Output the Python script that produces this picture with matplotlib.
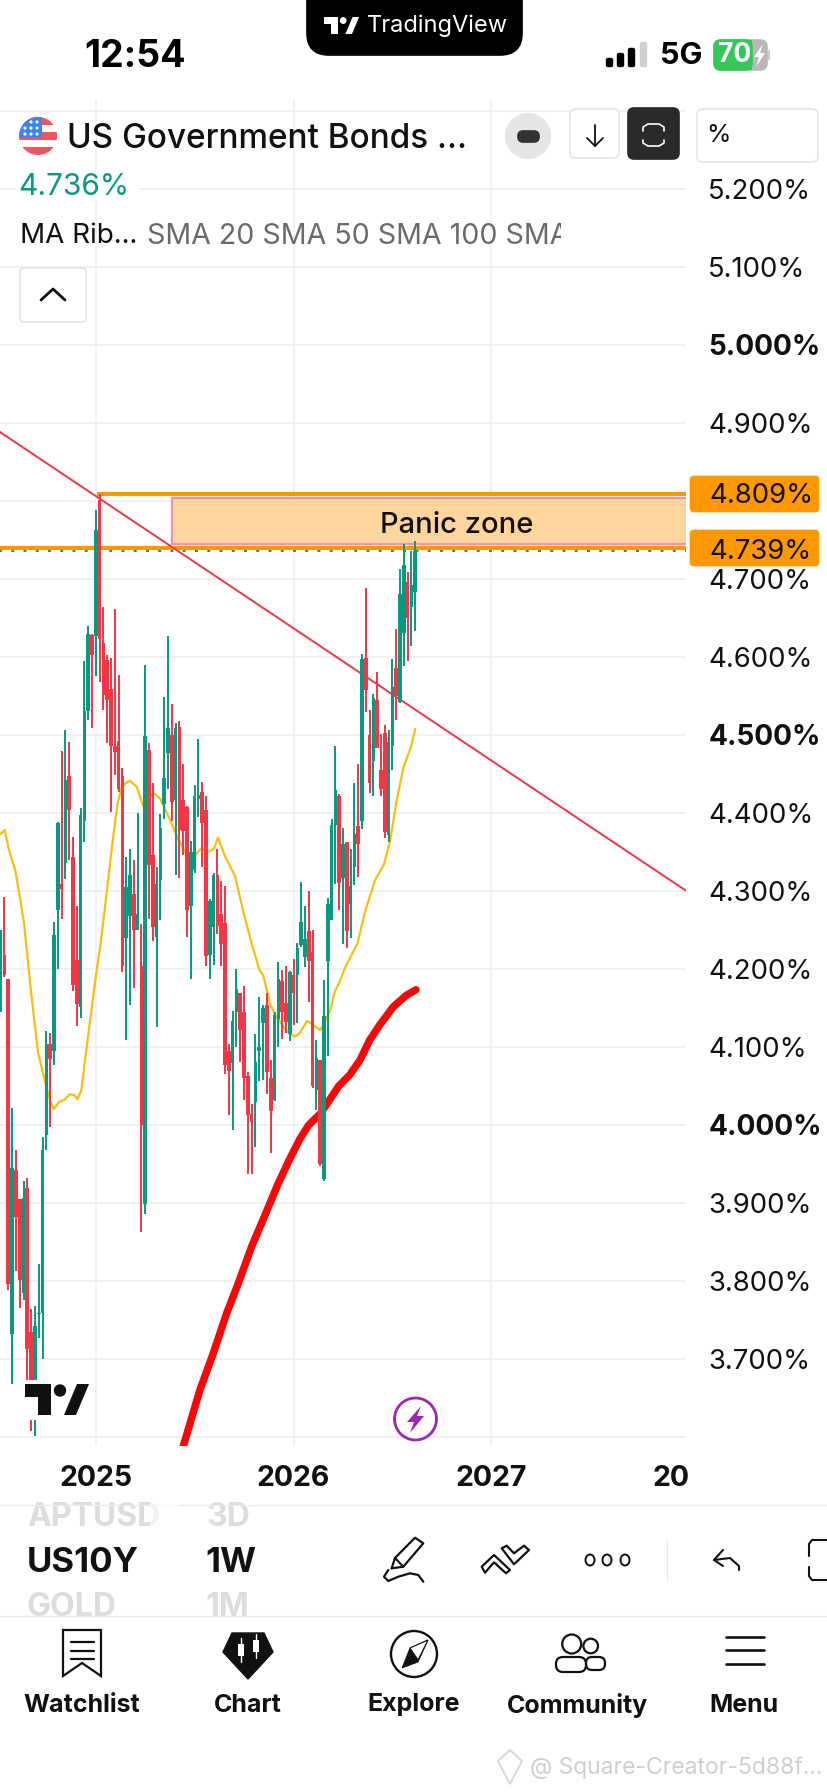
#!/usr/bin/env python3
import matplotlib
matplotlib.use("Agg")
import matplotlib.pyplot as plt
from matplotlib.patches import Rectangle, Circle, FancyBboxPatch, Polygon, Ellipse

plt.rcParams['font.family'] = ['Inter', 'DejaVu Sans']

# weekly candles, bar 25 is the first week of 2025
open_ = [4.217,4.217,4.187,3.732,3.942,3.905,3.784,3.919,3.734,3.672,3.757,3.758,3.987,4.104,4.094,4.275,4.308,4.335,4.447,4.343,
         4.211,4.151,4.389,4.530,4.628,4.627,4.801,4.617,4.596,4.558,4.485,4.492,4.447,4.240,4.268,4.296,4.250,4.203,3.898,4.480,
         4.346,4.241,4.314,4.411,4.477,4.500,4.416,4.510,4.416,4.407,4.281,4.327,4.418,4.427,4.403,4.217,4.254,4.320,4.270,4.258,
         4.095,4.079,4.144,4.169,4.144,4.063,4.014,4.029,4.094,4.130,4.154,4.060,4.032,4.136,4.184,4.156,4.116,4.192,4.192,4.230,
         4.215,4.248,4.221,4.045,4.083,3.931,4.210,4.263,4.384,4.421,4.316,4.362,4.283,4.330,4.383,4.390,4.598,4.499,4.466,4.544,
         4.455,4.502,4.372,4.485,4.585,4.542,4.630,4.696,4.664,4.683]
high = [4.249,4.292,4.187,4.021,3.967,3.905,3.928,3.932,3.764,3.767,3.821,3.984,4.120,4.117,4.260,4.388,4.479,4.506,4.491,4.369,
        4.280,4.406,4.594,4.639,4.629,4.788,4.809,4.664,4.602,4.598,4.661,4.576,4.457,4.343,4.353,4.339,4.400,4.257,4.589,4.489,
        4.438,4.331,4.398,4.548,4.627,4.539,4.515,4.518,4.462,4.408,4.364,4.436,4.495,4.440,4.421,4.289,4.323,4.353,4.312,4.306,
        4.103,4.146,4.199,4.169,4.178,4.068,4.027,4.116,4.164,4.154,4.169,4.083,4.144,4.209,4.198,4.203,4.197,4.212,4.233,4.311,
        4.281,4.299,4.249,4.108,4.083,4.186,4.291,4.392,4.485,4.424,4.380,4.363,4.354,4.438,4.462,4.604,4.688,4.532,4.552,4.580,
        4.501,4.512,4.506,4.597,4.636,4.713,4.744,4.708,4.735,4.748]
low = [4.145,4.190,3.788,3.668,3.812,3.765,3.775,3.661,3.607,3.601,3.727,3.699,3.968,3.997,4.077,4.199,4.264,4.315,4.339,4.171,
       4.127,4.137,4.363,4.519,4.508,4.575,4.567,4.532,4.489,4.401,4.448,4.427,4.196,4.109,4.153,4.175,4.249,3.862,3.885,4.264,
       4.236,4.125,4.262,4.392,4.431,4.389,4.320,4.316,4.346,4.241,4.187,4.323,4.395,4.331,4.203,4.187,4.205,4.244,4.204,4.065,
       4.012,3.993,4.100,4.080,4.032,3.937,3.937,3.971,4.056,4.057,4.040,3.964,4.030,4.100,4.110,4.118,4.107,4.128,4.131,4.228,
       4.202,4.157,4.047,4.019,3.947,3.928,4.088,4.263,4.309,4.275,4.232,4.227,4.240,4.307,4.317,4.379,4.529,4.425,4.422,4.483,
       4.421,4.367,4.363,4.455,4.519,4.541,4.588,4.595,4.614,4.633]
close = [4.249,4.192,3.796,3.944,3.882,3.801,3.906,3.712,3.666,3.742,3.758,3.968,4.104,4.084,4.243,4.387,4.302,4.442,4.403,4.179,
         4.155,4.397,4.530,4.629,4.602,4.763,4.623,4.551,4.545,4.485,4.478,4.431,4.203,4.305,4.320,4.250,4.270,4.000,4.498,4.333,
         4.254,4.308,4.381,4.445,4.508,4.414,4.508,4.378,4.376,4.275,4.349,4.421,4.423,4.387,4.216,4.287,4.320,4.255,4.232,4.076,
         4.069,4.133,4.174,4.121,4.060,4.012,4.003,4.081,4.100,4.149,4.068,4.017,4.141,4.187,4.144,4.132,4.196,4.169,4.227,4.260,
         4.238,4.210,4.050,4.086,3.949,4.139,4.283,4.384,4.429,4.310,4.360,4.248,4.306,4.373,4.360,4.597,4.557,4.438,4.547,4.483,
         4.430,4.375,4.491,4.561,4.549,4.681,4.718,4.649,4.692,4.736]

# yellow moving average, read as (bar, value)
sma_bar = [0,1.05,2.2,3.9,6.1,7.9,9.8,11.7,13,14,15.3,16.8,18.1,19.3,20.2,21.2,23.2,25,26.3,28,29.4,30.7,31.7,32.9,34,35.8,36.8,37.5,
           38.6,40.1,41.9,42.9,44.7,46.5,48.6,50.8,52.6,54.8,56.1,57.1,59,61.6,63.8,66,68,69,70.8,72.1,74.3,75.6,77.4,78.7,80.6,82.2,
           84,85.3,86.6,87.9,89,90.8,93.8,95.8,98.4,100.8,102.4,104.1,105.9,107.8,109]
sma_val = [4.373,4.378,4.352,4.325,4.260,4.174,4.093,4.055,4.031,4.020,4.029,4.032,4.039,4.038,4.033,4.044,4.122,4.190,4.233,4.303,
           4.362,4.411,4.431,4.438,4.441,4.433,4.418,4.408,4.414,4.426,4.418,4.408,4.389,4.368,4.349,4.343,4.354,4.350,4.354,4.368,
           4.344,4.319,4.273,4.232,4.199,4.192,4.156,4.141,4.126,4.118,4.113,4.118,4.133,4.128,4.121,4.133,4.146,4.171,4.182,4.204,
           4.232,4.273,4.313,4.334,4.364,4.415,4.458,4.483,4.507]

# thick red moving average
long_bar = [47.9,52.4,55.9,59.4,62.5,66,69.5,73,76.1,78.7,80.9,84,86.1,88.8,91.8,94.5,97.1,99.7,103.2,106.7,109.2]
long_val = [3.586,3.660,3.707,3.758,3.797,3.844,3.884,3.925,3.957,3.982,3.999,4.014,4.029,4.049,4.064,4.083,4.109,4.128,4.151,4.166,4.173]

trend_bar = [-0.18, 180.2]
trend_val = [4.888, 4.300]

upper_level = 4.809
lower_level = 4.739
last_price = 4.736
zone_top = 4.803
zone_bottom = 4.745
zone_start = 45.0

price_ticks = [5.3,5.2,5.1,5.0,4.9,4.8,4.7,4.6,4.5,4.4,4.3,4.2,4.1,4.0,3.9,3.8,3.7,3.6]
price_labels = ['','5.200%','5.100%','5.000%','4.900%','','4.700%','4.600%','4.500%','4.400%','4.300%','4.200%',
                '4.100%','4.000%','3.900%','3.800%','3.700%','']
bold_labels = ['5.000%','4.500%','4.000%']
year_ticks = [25, 77, 129]
year_labels = ['2025','2026','2027']

W, H = 828, 1792
UP = '#089981'
DOWN = '#F23645'
INK = '#111111'

fig = plt.figure(figsize=(W/100, H/100), dpi=100)
ax = fig.add_axes([0, 1-1446/H, 686/W, (1446-100)/H])
ax.set_xlim(-0.18, 180.2)
ax.set_ylim(3.5881, 5.3137)
for s in ax.spines.values():
    s.set_visible(False)
ax.set_axisbelow(True)
ax.grid(True, color='#F0F0F0', lw=1.3)
ax.yaxis.tick_right()
ax.set_yticks(price_ticks)
ax.set_yticklabels(price_labels, fontsize=19.8, color=INK)
ax.set_xticks(year_ticks)
ax.set_xticklabels(year_labels, fontsize=20.5, fontweight='bold', color=INK)
ax.tick_params(axis='y', length=0, pad=16)
ax.tick_params(axis='x', length=0, pad=14)
for lab in ax.get_yticklabels():
    if lab.get_text() in bold_labels:
        lab.set_fontweight('bold')
        lab.set_fontsize(20.2)

ax.add_patch(Rectangle((zone_start, zone_bottom), 200, zone_top-zone_bottom, fc='#FFD59E', ec='#F48FB1', lw=1.6, zorder=2))
ax.text(120, (zone_top+zone_bottom)/2-0.006, 'Panic zone', ha='center', va='center', fontsize=21, color=INK, zorder=3, fontweight='medium')
ax.plot([25.4, 200], [upper_level]*2, color='#FF9800', lw=3, zorder=3, solid_capstyle='butt')
ax.plot([-1, 200], [lower_level]*2, color='#FF9800', lw=3, zorder=3, solid_capstyle='butt')
ax.plot([-1, 200], [last_price-0.001]*2, color=UP, lw=1.4, ls=(0, (1.5, 4.8)), zorder=3)
ax.plot(trend_bar, trend_val, color=DOWN, lw=1.4, zorder=4)
ax.plot(sma_bar, sma_val, color='#F9BE0F', lw=1.6, zorder=5)
ax.plot(long_bar, long_val, color='#F90606', lw=5.4, zorder=6, solid_capstyle='round', solid_joinstyle='round')

for i, (o, h, l, c) in enumerate(zip(open_, high, low, close)):
    col = UP if c >= o else DOWN
    ax.vlines(i, l, h, color=col, lw=1.4, zorder=7+i*0.01)
    ax.bar(i, max(abs(c-o), 0.002), bottom=min(o, c), width=0.95, color=col, lw=0, zorder=7+i*0.01)

# everything round the chart, in screen pixels
ui = fig.add_axes([0, 0, 1, 1], facecolor='none')
ui.set_xlim(0, W)
ui.set_ylim(H, 0)
ui.axis('off')

def box(x0, y0, x1, y1, fc='white', ec='#E4E4E4', lw=1.2, r=5, z=10):
    ui.add_patch(FancyBboxPatch((x0+r, y0+r), x1-x0-2*r, y1-y0-2*r, boxstyle='round,pad=%g,rounding_size=%g' % (r, r),
                                fc=fc, ec=ec, lw=lw, zorder=z))

def stroke(xs, ys, lw=1.8, color=INK, z=12):
    ui.plot(xs, ys, color=color, lw=lw, zorder=z, solid_capstyle='round', solid_joinstyle='round')

def logo(x, y, s, color):
    # tradingview mark, s is its height
    k = s/31.0
    parts = [[(0,0),(26,0),(26,31),(13,31),(13,13),(0,13)],
             [(39,31),(52,0),(64,0),(51,31)]]
    for p in parts:
        ui.add_patch(Polygon([(x+a*k, y+b*k) for a, b in p], fc=color, ec='none', zorder=14))
    ui.add_patch(Circle((x+35*k, y+6.5*k), 6.2*k, fc=color, ec='none', zorder=14))

# status bar
ui.text(135, 57, '12:54', ha='center', va='center', fontsize=27, fontweight='bold', color='black')
box(307, -30, 522, 55, fc='black', ec='black', r=22)
logo(324, 17, 17, 'white')
ui.text(367, 26, 'TradingView', ha='left', va='center', fontsize=17, color='white', zorder=14)
for bx, top, c in zip([606, 617, 628, 640], [58, 53, 48, 42], ['black', 'black', 'black', '#D0D0D0']):
    box(bx, top, bx+7, 67, fc=c, ec=c, lw=0.3, r=2, z=12)
ui.text(681, 56, '5G', ha='center', va='center', fontsize=22, fontweight='bold', color='black')
box(714, 40, 767, 70, fc='#B8B8B8', ec='#B8B8B8', r=7)
box(714, 40, 752, 70, fc='#34C759', ec='#34C759', r=7, z=11)
ui.add_patch(Rectangle((744, 40), 8, 30, fc='#34C759', ec='none', zorder=11))
ui.add_patch(Rectangle((768, 50), 2, 10, fc='#CCCCCC', ec='none', zorder=11))
ui.text(735, 55.5, '70', ha='center', va='center', fontsize=19, fontweight='bold', color='white', zorder=13)
ui.add_patch(Polygon([(763, 44), (754, 57), (759, 57), (756, 67), (765, 53), (760, 53)], fc='white', ec='none', zorder=13))

# legend header
flag = Circle((38, 136), 19, fc='white', ec='none', zorder=11)
ui.add_patch(flag)
for sy, sh in [(117, 8), (132, 8), (147, 9)]:
    st = Rectangle((19, sy), 38, sh, fc='#F7525F', ec='none', zorder=12)
    ui.add_patch(st)
    st.set_clip_path(flag)
canton = Rectangle((19, 117), 23, 21, fc='#3B82F6', ec='none', zorder=13)
ui.add_patch(canton)
canton.set_clip_path(flag)
for sx, sy in [(31, 122), (37, 122), (25, 128), (31, 128), (37, 128), (25, 134), (31, 134), (37, 134)]:
    ui.add_patch(Circle((sx, sy), 1.6, fc='white', ec='none', zorder=14))
ui.text(67, 139, 'US Government Bonds ...', ha='left', va='center', fontsize=24, fontweight='medium', color=INK, zorder=12)
ui.add_patch(Ellipse((528, 136), 46, 46, fc='#E6E6E6', ec='none', zorder=11))
box(518, 131, 539, 142, fc='#333333', ec='#333333', r=5, z=12)
box(570, 109, 619, 158, r=6)
stroke([595, 595], [125, 146], lw=1.3)
stroke([587, 595, 603], [138, 146, 138], lw=1.3)
box(628, 108, 679, 159, fc='#2A2A2A', ec='#2A2A2A', r=6)
stroke([643, 643, 648, 659, 664, 664], [131, 127, 124, 124, 127, 131], lw=1.2, color='white')
stroke([643, 643, 648, 659, 664, 664], [140, 143, 146, 146, 143, 140], lw=1.2, color='white')
box(697, 109, 818, 162, r=6)
ui.text(706, 136, '%', ha='left', va='center', fontsize=18, color=INK, zorder=12)
ui.add_patch(Rectangle((15, 172), 124, 28, fc='white', ec='none', zorder=10))
ui.text(18, 187, '4.736%', ha='left', va='center', fontsize=21.5, color=UP, zorder=12)
ui.text(20, 236, 'MA Rib...', ha='left', va='center', fontsize=20, color=INK, zorder=12)
sma_txt = ui.text(147, 236, 'SMA 20 SMA 50 SMA 100 SMA 200', ha='left', va='center', fontsize=20.6, color='#6A6A6A', zorder=12)
sma_txt.set_clip_on(True)
sma_txt.set_clip_path(Rectangle((147, 210), 414, 50, transform=ui.transData))
box(20, 268, 86, 322, r=4)
stroke([41, 53, 65], [300, 289, 300], lw=2)

# price tags
for y0, dy, txt in [(476, 20, '4.809%'), (530, 22, '4.739%')]:
    box(690, y0, 819, y0+36, fc='#FF9800', ec='#FF9800', lw=0.5, r=4)
    ui.text(709, y0+dy, txt, ha='left', va='center', fontsize=19.8, color=INK, zorder=12)

# watermark logo and lightning badge
ui.add_patch(Rectangle((22, 1380), 68, 40, fc='white', ec='none', zorder=13))
logo(25, 1384, 31, '#111111')
ui.add_patch(Circle((415.5, 1419), 21, fc='white', ec='#9C27B0', lw=2, zorder=13))
ui.add_patch(Polygon([(421, 1406), (407, 1422), (414, 1422), (410, 1433), (424, 1416), (417, 1416)], fc='#9C27B0', ec='none', zorder=14))

ui.text(671, 1479, '20', ha='center', va='center', fontsize=20.5, fontweight='bold', color=INK)

# symbol strip
stroke([0, W], [1505, 1505], lw=1, color='#ECECEC')
stroke([0, W], [1616, 1616], lw=1, color='#ECECEC')
for tx, ty, t, c, fs in [(27, 1517, 'APTUSD', '#DDDDDD', 23), (206, 1517, '3D', '#DDDDDD', 23),
                         (27, 1563, 'US10Y', INK, 25), (205, 1563, '1W', INK, 25),
                         (27, 1608, 'GOLD', '#DDDDDD', 23), (206, 1608, '1M', '#DDDDDD', 23)]:
    ui.text(tx, ty, t, ha='left', va='center', fontsize=fs, fontweight='bold', color=c, zorder=11)
ui.add_patch(Rectangle((150, 1495), 30, 40, fc='white', ec='none', alpha=0.6, zorder=12))

# toolbar icons
stroke([391.7, 395, 415, 423.3, 403.3, 391.7], [1568.3, 1558, 1537.7, 1543.3, 1566.7, 1568.3], lw=1.6)
stroke([395, 403.3], [1558, 1566.7], lw=1.6)
stroke([388.3, 384, 388.3, 398.3, 410, 418.3, 423.3], [1570, 1576.7, 1581, 1576.7, 1573.3, 1575, 1581.7], lw=1.6)
for pts in [[(481.7,1566.7),(494,1555),(510,1570),(506,1573.3),(494,1562.3),(485,1572.7)],
            [(501.7,1548.3),(506.7,1545.7),(514,1553.3),(524,1545.7),(529,1550),(514,1564.3)]]:
    ui.add_patch(Polygon(pts, fc='white', ec=INK, lw=1.6, joinstyle='round', zorder=12))
for cx in [590, 607, 625]:
    ui.add_patch(Ellipse((cx, 1560), 9, 11, fc='white', ec=INK, lw=1.4, zorder=12))
stroke([667, 667], [1540, 1580], lw=0.8, color='#E8E8E8')
stroke([723, 714, 723], [1550, 1560, 1566], lw=1.5)
stroke([714, 730, 739, 739], [1560, 1558, 1566, 1570], lw=1.5)
stroke([828, 812, 809, 809], [1540, 1540, 1544, 1556], lw=1.5)
stroke([828, 812, 809, 809], [1580, 1580, 1576, 1567], lw=1.5)

# tab bar
for cx, t in [(82, 'Watchlist'), (248, 'Chart'), (413.5, 'Explore'), (578, 'Community'), (744, 'Menu')]:
    ui.text(cx, 1705, t, ha='center', va='center', fontsize=18, fontweight='bold', color=INK, zorder=12)
ui.add_patch(Polygon([(63, 1630), (101, 1630), (101, 1676), (82, 1663), (63, 1676)], fc='white', ec=INK, lw=1.6, zorder=12))
for ly in [1642, 1651, 1659]:
    stroke([71, 94], [ly, ly], lw=1.6)
ui.add_patch(Polygon([(232, 1633), (264, 1633), (273, 1652), (248, 1679), (223, 1652)], fc=INK, ec=INK, lw=1, zorder=12))
for bx, by in [(241, 1650), (256, 1646)]:
    stroke([bx, bx], [by-12, by+12], lw=1, color='white', z=13)
    ui.add_patch(Rectangle((bx-3, by-6), 6, 12, fc='white', ec='none', zorder=13))
ui.add_patch(Ellipse((414, 1654), 46, 46, fc='white', ec=INK, lw=1.7, zorder=12))
ui.add_patch(Polygon([(428, 1640), (418, 1662), (402, 1668), (410, 1648)], fc=INK, ec=INK, lw=0.6, zorder=13))
ui.add_patch(Polygon([(428, 1640), (410, 1648), (418, 1660)], fc='white', ec=INK, lw=0.8, zorder=14))
ui.add_patch(Circle((571.7, 1644), 9.5, fc='white', ec=INK, lw=1.6, zorder=13))
ui.add_patch(Circle((590.7, 1646), 7.3, fc='white', ec=INK, lw=1.6, zorder=12))
box(586, 1657, 605, 1670, r=6, ec=INK, lw=1.6, z=12)
box(556, 1657, 586, 1672, r=7, ec=INK, lw=1.6, z=13)
for ly in [1637, 1650, 1664]:
    stroke([726, 764], [ly, ly], lw=1.9)

# source watermark
ui.add_patch(Polygon([(510, 1750), (522, 1761), (510, 1784), (498, 1761)], fc='none', ec='#D8D8D8', lw=1.4, zorder=12))
ui.text(530, 1768, '@ Square-Creator-5d88f...', ha='left', va='center', fontsize=16.5, color='#CFCFCF', zorder=12)

fig.savefig('out.png', dpi=100)
